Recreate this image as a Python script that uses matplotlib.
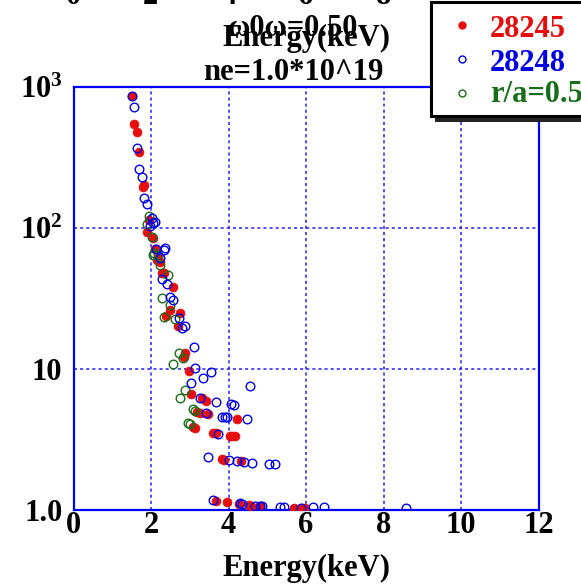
import matplotlib
matplotlib.use("Agg")
import matplotlib.pyplot as plt
from matplotlib.patches import Rectangle
from matplotlib.lines import Line2D

plt.rcParams['font.family'] = ['Liberation Serif', 'DejaVu Serif']
plt.rcParams['font.weight'] = 'bold'
plt.rcParams['mathtext.fontset'] = 'custom'
plt.rcParams['mathtext.rm'] = 'Liberation Serif:bold'
plt.rcParams['mathtext.bf'] = 'Liberation Serif:bold'
plt.rcParams['mathtext.it'] = 'Liberation Serif:bold'

# ---- data ----
red_x = [1.50, 1.57, 1.65, 1.70, 1.79, 1.83, 1.96, 1.90, 2.04, 2.11,
         2.17, 2.28, 2.15, 2.24, 2.31, 2.34, 2.56, 2.48, 2.75, 2.39,
         2.69, 2.88, 2.84, 2.97, 3.03, 3.31, 3.42, 3.18, 3.27, 3.48,
         4.21, 3.08, 3.14, 3.61, 3.68, 4.03, 4.10, 4.16, 3.83, 3.89,
         4.33, 3.68, 3.96, 4.28, 4.52, 4.58, 4.82, 5.68, 5.90, 5.96]
red_y = [859, 541, 480, 347, 194, 201, 114, 93.8, 84.7, 71.3,
         60.8, 47.6, 59.1, 57.5, 48.1, 47.8, 37.9, 26.2, 25.0, 23.7,
         20.0, 12.9, 12.2, 9.62, 6.64, 6.17, 5.97, 4.97, 4.85, 4.77,
         4.42, 3.89, 3.79, 3.53, 3.50, 3.35, 3.35, 3.35, 2.30, 2.26,
         2.21, 1.158, 1.134, 1.103, 1.080, 1.067, 1.067, 1.038, 1.038, 1.038]

blue_x = [1.51, 1.57, 1.63, 1.70, 1.77, 1.83, 1.89, 2.02, 2.06, 2.11,
          1.98, 2.13, 2.36, 2.24, 2.34, 2.29, 2.42, 2.49, 2.56, 2.71,
          2.80, 2.88, 3.10, 3.14, 3.55, 3.34, 3.03, 4.54, 3.26, 3.68,
          4.06, 4.15, 3.42, 3.83, 3.90, 3.97, 4.48, 3.74, 3.48, 4.02,
          4.22, 4.41, 4.61, 5.05, 5.21, 3.61, 4.30, 4.35, 4.69, 4.80,
          4.86, 5.32, 5.42, 5.87, 6.18, 6.46, 8.57]
blue_y = [859, 721, 365, 263, 229, 162, 147, 117, 109, 110,
          103, 70.4, 71.6, 60.8, 69.6, 43.2, 40.0, 32.5, 30.8, 22.8,
          19.5, 20.1, 14.3, 10.2, 9.43, 8.58, 7.91, 7.56, 6.25, 5.80,
          5.64, 5.55, 4.85, 4.59, 4.59, 4.59, 4.39, 3.46, 2.39, 2.26,
          2.22, 2.18, 2.14, 2.12, 2.11, 1.177, 1.116, 1.103, 1.073, 1.067,
          1.067, 1.045, 1.045, 1.038, 1.045, 1.045, 1.028]

green_x = [1.96, 1.89, 2.03, 2.08, 2.24, 2.05, 2.18, 2.43, 2.28, 2.48,
           2.34, 2.62, 2.71, 2.82, 2.56, 2.88, 2.76, 3.08, 3.14, 2.95, 3.01]
green_y = [122, 106, 86.1, 65.9, 54.5, 64.2, 64.2, 46.3, 31.7, 28.4,
           23.4, 22.5, 13.0, 11.9, 10.9, 7.12, 6.25, 5.17, 5.06, 4.16, 4.07]

labels = ['28245', '28248', 'r/a=0.5']
xticks = [0, 2, 4, 6, 8, 10, 12]
yticks = [1, 10, 100, 1000]
ytick_labels = ['1.0', '10', r'$10^2$', r'$10^3$']

RED = '#e60d0d'
BLUE = '#0000e6'
GREEN = '#1a6e1a'
FS = 22

W, H = 581, 587
fig = plt.figure(figsize=(W / 100, H / 100), dpi=100)
ax = fig.add_axes([73.5 / W, 77 / H, (538.7 - 73.5) / W, (510 - 86.7) / H])

ax.plot(red_x, red_y, 'o', color=RED, ms=6.4, mec=RED, mew=0.5, zorder=3)
ax.plot(green_x, green_y, 'o', mfc='none', mec=GREEN, ms=6.2, mew=1.0, zorder=4)
ax.plot(blue_x, blue_y, 'o', mfc='none', mec=BLUE, ms=6.2, mew=1.0, zorder=5)

ax.set_yscale('log')
ax.set_xlim(0, 12)
ax.set_ylim(1, 1000)
ax.set_xticks(xticks)
ax.set_xticklabels([str(t) for t in xticks])
ax.set_yticks(yticks)
ax.set_yticklabels(ytick_labels)
ax.minorticks_off()
ax.tick_params(axis='both', length=0, labelsize=FS)
ax.tick_params(axis='x', pad=1)
ax.tick_params(axis='y', pad=8)
for lab in ax.get_xticklabels() + ax.get_yticklabels():
    lab.set_fontweight('bold')

ax.grid(True, color='#2020ff', linestyle=(0, (2, 2)), linewidth=1.1)
for s in ax.spines.values():
    s.set_color('#0000ff')
    s.set_linewidth(1.6)

ax.set_xlabel('Energy(keV)', fontsize=FS, fontweight='bold', labelpad=10)

# titles (overlapping as in the original)
def ftext(px, py, s, **kw):
    fig.text(px / W, 1 - py / H, s, fontsize=FS, fontweight='bold', **kw)

ftext(293, 36, 'ω0ω=0.50', ha='center', va='baseline')
ftext(306, 46, 'Energy(keV)', ha='center', va='baseline')
ftext(293, 80, 'ne=1.0*10^19', ha='center', va='baseline')

# clipped tick labels of a panel above
for px, s in zip([73, 150, 229, 306, 384], ['0', '2', '4', '6', '8']):
    ftext(px, 4, s, ha='center', va='baseline')

# legend box with shadow
shadow = Rectangle((435 / W, 1 - 122 / H), 200 / W, 119 / H, transform=fig.transFigure,
                   facecolor='#222222', edgecolor='none', zorder=10)
box = Rectangle((431 / W, 1 - 116 / H), 200 / W, 114 / H, transform=fig.transFigure,
                facecolor='white', edgecolor='black', linewidth=2.2, zorder=11)
fig.add_artist(shadow)
fig.add_artist(box)
leg_rows = [(25, 37), (59, 71), (93, 102)]
styles = [dict(color=RED, mfc=RED, mec=RED), dict(color=BLUE, mfc='none', mec=BLUE),
          dict(color=GREEN, mfc='none', mec=GREEN)]
colors = [RED, BLUE, GREEN]
for (my, ty), st, lab, c in zip(leg_rows, styles, labels, colors):
    fig.add_artist(Line2D([461.7 / W], [1 - my / H], marker='o', ms=5.0, mew=1.0,
                          linestyle='none', transform=fig.transFigure, zorder=12, **st))
    fig.text(490 / W, 1 - ty / H, lab, color=c, fontsize=FS, fontweight='bold',
             ha='left', va='baseline', zorder=12)

fig.savefig('out.png', dpi=100)
